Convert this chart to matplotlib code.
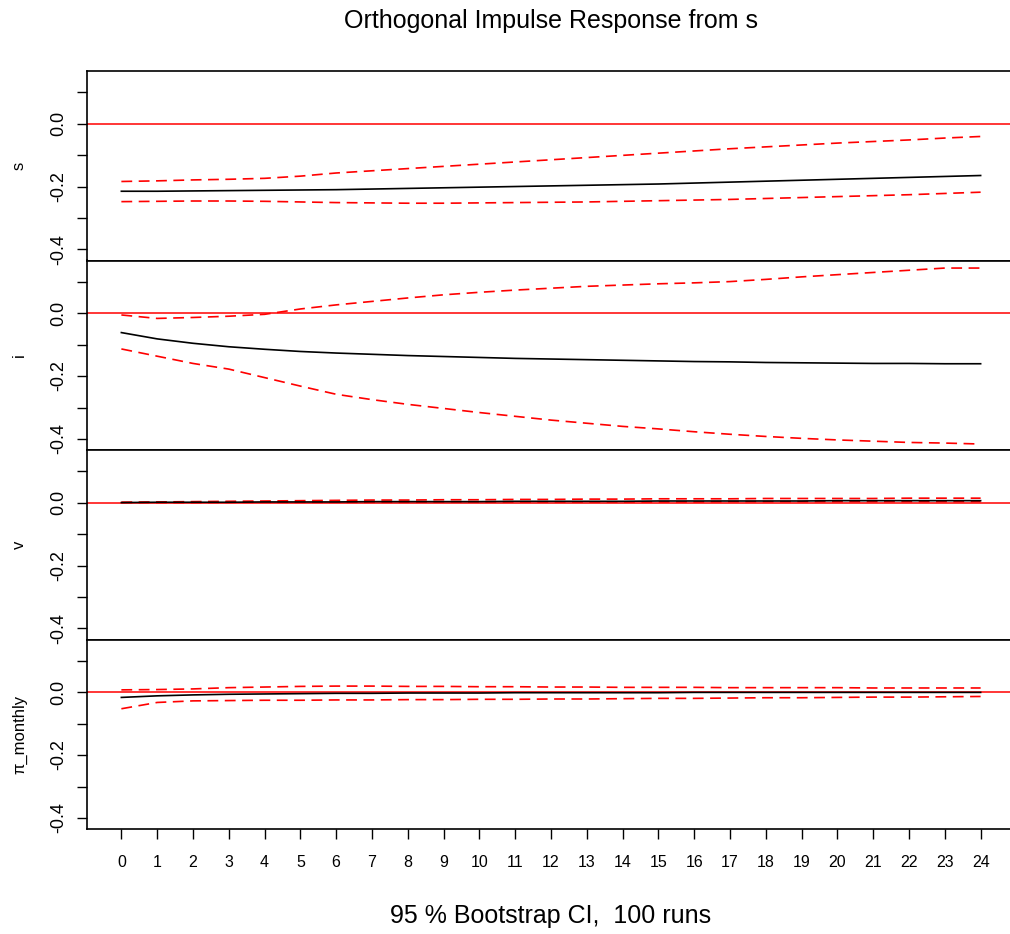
import numpy as np
from matplotlib import pyplot as plt

plt.rcParams['font.family'] = ['Liberation Sans', 'DejaVu Sans']

horizon = list(range(25))
panel_names = ['s', 'i', 'v', 'π_monthly']

# orthogonal impulse responses to a shock in s, with bootstrap bands
irf_s = [-0.215, -0.215, -0.214, -0.213, -0.212, -0.211, -0.210, -0.208, -0.206, -0.204, -0.202, -0.200, -0.198,
         -0.196, -0.194, -0.192, -0.189, -0.186, -0.183, -0.180, -0.177, -0.174, -0.171, -0.168, -0.165]
upper_s = [-0.184, -0.182, -0.179, -0.177, -0.174, -0.167, -0.157, -0.150, -0.143, -0.136, -0.129, -0.122, -0.115,
           -0.108, -0.101, -0.094, -0.087, -0.080, -0.074, -0.068, -0.062, -0.057, -0.052, -0.046, -0.041]
lower_s = [-0.248, -0.247, -0.246, -0.246, -0.247, -0.249, -0.251, -0.252, -0.253, -0.253, -0.252, -0.251, -0.250,
           -0.249, -0.247, -0.245, -0.243, -0.241, -0.238, -0.235, -0.232, -0.229, -0.226, -0.222, -0.218]

irf_i = [-0.062, -0.082, -0.096, -0.107, -0.115, -0.122, -0.127, -0.131, -0.135, -0.138, -0.141, -0.144, -0.146,
         -0.148, -0.150, -0.152, -0.154, -0.155, -0.157, -0.158, -0.159, -0.160, -0.160, -0.161, -0.161]
upper_i = [-0.006, -0.017, -0.014, -0.010, -0.004, 0.013, 0.026, 0.037, 0.048, 0.058, 0.066, 0.073, 0.079,
           0.085, 0.089, 0.093, 0.096, 0.100, 0.107, 0.115, 0.122, 0.129, 0.136, 0.143, 0.143]
lower_i = [-0.114, -0.137, -0.160, -0.178, -0.205, -0.232, -0.258, -0.275, -0.290, -0.303, -0.316, -0.328, -0.340,
           -0.350, -0.360, -0.368, -0.377, -0.385, -0.392, -0.398, -0.403, -0.407, -0.411, -0.413, -0.416]

irf_v = [0.000, 0.001, 0.001, 0.001, 0.002, 0.002, 0.002, 0.003, 0.003, 0.003, 0.003, 0.004, 0.004,
         0.004, 0.004, 0.005, 0.005, 0.005, 0.005, 0.005, 0.006, 0.006, 0.006, 0.006, 0.006]
upper_v = [0.001, 0.002, 0.003, 0.004, 0.005, 0.006, 0.007, 0.008, 0.008, 0.009, 0.009, 0.010, 0.010,
           0.011, 0.011, 0.012, 0.012, 0.012, 0.013, 0.013, 0.013, 0.013, 0.014, 0.014, 0.014]
lower_v = [0.000, 0.000, 0.000, 0.001, 0.001, 0.001, 0.001, 0.001, 0.001, 0.002, 0.002, 0.002, 0.002,
           0.002, 0.002, 0.002, 0.002, 0.003, 0.003, 0.003, 0.003, 0.003, 0.003, 0.003, 0.003]

irf_pi = [-0.017, -0.012, -0.009, -0.007, -0.006, -0.005, -0.004, -0.004, -0.003, -0.003, -0.003, -0.002, -0.002,
          -0.002, -0.002, -0.002, -0.001, -0.001, -0.001, -0.001, -0.001, -0.001, -0.001, -0.001, -0.001]
upper_pi = [0.007, 0.008, 0.010, 0.014, 0.016, 0.018, 0.019, 0.019, 0.018, 0.018, 0.017, 0.017, 0.016,
            0.016, 0.015, 0.015, 0.015, 0.014, 0.014, 0.014, 0.014, 0.013, 0.013, 0.013, 0.013]
lower_pi = [-0.053, -0.033, -0.028, -0.027, -0.026, -0.026, -0.025, -0.025, -0.024, -0.024, -0.023, -0.023, -0.022,
            -0.022, -0.021, -0.020, -0.020, -0.019, -0.018, -0.018, -0.017, -0.016, -0.016, -0.015, -0.014]

responses = [irf_s, irf_i, irf_v, irf_pi]
uppers = [upper_s, upper_i, upper_v, upper_pi]
lowers = [lower_s, lower_i, lower_v, lower_pi]

y_ticks = [-0.4, -0.3, -0.2, -0.1, 0.0, 0.1]
y_ticklabels = ['-0.4', '', '-0.2', '', '0.0', '']

W, H = 1010, 934
fig = plt.figure(figsize=(W / 100, H / 100), dpi=100)

# panel frame in pixels, measured from the top-left corner
left, right = 87, 1015
top, bottom = 71, 829
panel_h = (bottom - top) / 4
dash = (0, (6.5, 3.9))

for k in range(4):
    panel_bottom = top + (k + 1) * panel_h
    ax = fig.add_axes([left / W, 1 - panel_bottom / H, (right - left) / W, panel_h / H])
    ax.axhline(0, color='red', lw=1.1, zorder=1)
    ax.plot(horizon, responses[k], color='black', lw=1.2, zorder=3)
    ax.plot(horizon, uppers[k], color='red', lw=1.2, linestyle=dash, zorder=2)
    ax.plot(horizon, lowers[k], color='red', lw=1.2, linestyle=dash, zorder=2)
    ax.set_xlim(-0.96, 24.96)
    ax.set_ylim(-0.435, 0.167)
    ax.set_yticks(y_ticks)
    ax.set_yticklabels(y_ticklabels, rotation=90, va='center', fontsize=13)
    ax.tick_params(axis='y', length=7, width=1, pad=7)
    ax.set_ylabel(panel_names[k], fontsize=12)
    ax.yaxis.set_label_coords(-60 / (right - left), 0.5)
    for sp in ax.spines.values():
        sp.set_linewidth(1.2)
    if k == 3:
        ax.set_xticks(horizon)
        ax.set_xticklabels([str(h) for h in horizon], fontsize=11.5)
        ax.tick_params(axis='x', length=7, width=1, pad=12)
    else:
        ax.set_xticks([])

fig.text((left + right) / 2 / W, 1 - 21 / H, 'Orthogonal Impulse Response from s',
         ha='center', va='center', fontsize=18)
fig.text((left + right) / 2 / W, 1 - 916 / H, '95 % Bootstrap CI,  100 runs',
         ha='center', va='center', fontsize=18)

fig.savefig('out.png', dpi=100)
